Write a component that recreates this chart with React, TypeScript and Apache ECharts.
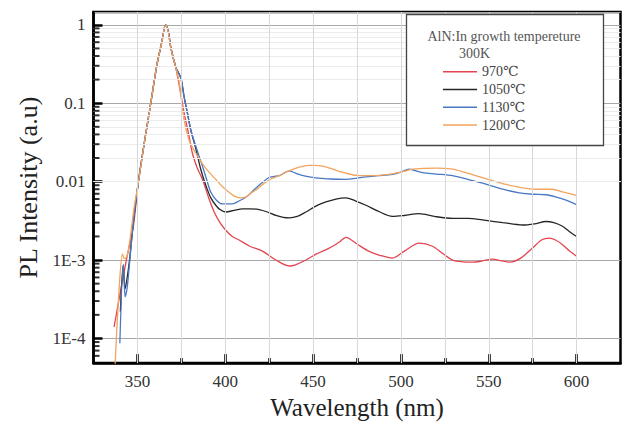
import React, { useEffect, useRef } from "react";
import * as echarts from "echarts";

// ---------- data ----------
const seriesNames = ["970℃", "1050℃", "1130℃", "1200℃"];
const seriesColors = ["#e4454f", "#262626", "#4a78c4", "#f2a35e"];

const wl970 = [336.7, 340, 343.7, 347.7, 350.5, 354, 357.6, 361, 364, 366, 367.5, 369, 371.9, 374, 376.6, 379, 381.3, 384, 387, 390.8, 393.7, 397, 400.3, 404, 407.9, 414, 421.2, 428.8, 436.4, 440, 445.9, 452, 459.2, 465, 468.7, 475, 481.9, 488, 495.2, 502, 510.4, 518, 524, 529.4, 535, 540.8, 546, 552.2, 557, 561.7, 568, 574.9, 580, 584.5, 588, 592, 596, 600];
const pl970 = [1.4e-4, 3.6e-4, 1.0e-3, 2.7e-3, 0.01, 0.032, 0.1, 0.3, 0.62, 1.0, 0.85, 0.52, 0.28, 0.16, 0.075, 0.042, 0.023, 0.015, 0.0107, 0.006, 0.0041, 0.003, 0.0024, 0.002, 0.0018, 0.0015, 0.0013, 0.001, 0.00084, 0.00087, 0.001, 0.0012, 0.00142, 0.0017, 0.00195, 0.0016, 0.00129, 0.00115, 0.00106, 0.0013, 0.00164, 0.0015, 0.0012, 0.001, 0.00095, 0.00094, 0.00097, 0.00103, 0.00098, 0.00094, 0.00105, 0.00142, 0.0018, 0.0019, 0.0018, 0.00157, 0.0013, 0.00112];

const wl1050 = [340.3, 341.9, 343, 344.2, 345.5, 348, 350.6, 354, 357.6, 361, 364, 366, 367.5, 369, 371.9, 374.7, 376.6, 378.5, 380.4, 383.3, 386, 389, 391.8, 394.6, 397, 400.3, 405, 409.8, 414, 419.3, 424, 428.8, 433, 436.4, 441, 445.9, 451, 457.3, 463, 468.7, 474, 480.1, 487, 495.2, 502, 510.4, 519, 529.4, 538, 548.4, 558, 569.2, 576, 582.6, 587, 592, 596, 600];
const pl1050 = [2.2e-4, 8.6e-4, 4.3e-4, 6.0e-4, 1.0e-3, 3.5e-3, 0.01, 0.032, 0.1, 0.3, 0.62, 1.0, 0.85, 0.51, 0.286, 0.21, 0.12, 0.074, 0.0455, 0.026, 0.0145, 0.0089, 0.0062, 0.005, 0.0044, 0.0041, 0.0043, 0.0045, 0.0045, 0.0044, 0.0041, 0.0037, 0.0035, 0.00345, 0.0036, 0.0041, 0.0048, 0.0055, 0.006, 0.0062, 0.0057, 0.005, 0.0042, 0.0036, 0.0037, 0.0039, 0.0036, 0.0034, 0.0034, 0.0032, 0.003, 0.0028, 0.0029, 0.0031, 0.003, 0.0027, 0.0023, 0.002];

const wl1130 = [340, 342, 343, 344.2, 345.5, 348, 350.6, 354, 357.6, 361, 364, 366, 367.5, 369, 371.9, 374.7, 376.6, 378.5, 380.4, 383.3, 387, 389.5, 391.8, 395, 398.4, 404.1, 408, 411.7, 418, 425, 430.7, 436.4, 440, 445, 449.7, 455, 460, 468.7, 474, 480.1, 487, 495.2, 500, 504.7, 508, 512.3, 520, 529.4, 538, 548.4, 558, 567.4, 575, 582.6, 588, 594, 600];
const pl1130 = [8.7e-5, 8.8e-4, 3.4e-4, 4.5e-4, 9e-4, 3.5e-3, 0.01, 0.032, 0.1, 0.3, 0.62, 1.0, 0.85, 0.51, 0.286, 0.21, 0.12, 0.074, 0.0455, 0.028, 0.0158, 0.0105, 0.0073, 0.0058, 0.0052, 0.0052, 0.0057, 0.0063, 0.0085, 0.0113, 0.0119, 0.0137, 0.0128, 0.0118, 0.0113, 0.011, 0.0108, 0.0107, 0.011, 0.0115, 0.0119, 0.0124, 0.0132, 0.0144, 0.0138, 0.013, 0.0125, 0.0119, 0.0107, 0.0093, 0.008, 0.0072, 0.0069, 0.0068, 0.0064, 0.0058, 0.0051];

const wl1200 = [337.3, 339.5, 341.5, 342.5, 344, 346, 348, 350.6, 354, 357.6, 361, 364, 366, 367.5, 369, 371.9, 373.7, 376.6, 379.4, 381.5, 383.3, 385.5, 388, 391, 394.6, 398, 402.2, 405.5, 409, 412, 415, 419, 422, 426, 430.7, 435, 440, 444, 447.8, 451, 455.4, 460, 465, 470, 476.3, 484, 493.3, 500, 506.6, 513, 520, 529.4, 537, 545, 552.2, 560, 571.2, 578, 586.3, 592, 600];
const pl1200 = [4.5e-5, 4e-4, 1.2e-3, 1.05e-3, 1.1e-3, 2e-3, 4.5e-3, 0.01, 0.032, 0.1, 0.3, 0.62, 1.0, 0.82, 0.5, 0.28, 0.19, 0.061, 0.034, 0.027, 0.023, 0.019, 0.0158, 0.013, 0.0107, 0.0088, 0.0073, 0.0065, 0.0062, 0.0064, 0.0072, 0.0083, 0.0095, 0.0108, 0.0119, 0.0133, 0.0148, 0.0157, 0.0161, 0.0161, 0.0158, 0.0148, 0.0135, 0.0126, 0.0119, 0.0119, 0.0124, 0.0132, 0.0144, 0.0148, 0.0149, 0.0144, 0.013, 0.0115, 0.0103, 0.0092, 0.0082, 0.008, 0.008, 0.0074, 0.0067];

const xMin = 325;
const xMax = 625;
const xMajorTicks = [350, 400, 450, 500, 550, 600];
const xMinorTicks = [375, 425, 475, 525, 575];
const xGridValues = [350, 375, 400, 425, 450, 475, 500, 525, 550, 575, 600];
const yMin = 4.85e-5;
const yMax = 1.456;
const yTickValues = [1e-4, 1e-3, 0.01, 0.1, 1];
const yTickLabels = ["1E-4", "1E-3", "0.01", "0.1", "1"];
const yMinorValues = [
  6e-5, 7e-5, 8e-5, 9e-5,
  2e-4, 3e-4, 4e-4, 5e-4, 6e-4, 7e-4, 8e-4, 9e-4,
  2e-3, 3e-3, 4e-3, 5e-3, 6e-3, 7e-3, 8e-3, 9e-3,
  0.02, 0.03, 0.04, 0.05, 0.06, 0.07, 0.08, 0.09,
  0.2, 0.3, 0.4, 0.5, 0.6, 0.7, 0.8, 0.9,
];
const legendTitle = "AlN:In growth tempereture";
const legendSubtitle = "300K";

const FONT = "'Liberation Serif', 'DejaVu Serif', serif";

export default function App() {
  const ref = useRef<HTMLDivElement>(null);
  useEffect(() => {
    document.body.style.margin = "0";
    if (!ref.current) return;
    const chart = echarts.init(ref.current, null, { renderer: "svg" });
    const wls = [wl970, wl1050, wl1130, wl1200];
    const pls = [pl970, pl1050, pl1130, pl1200];
    const lineSeries = seriesNames.map((name, k) => ({
      name,
      type: "line",
      data: wls[k].map((w, i) => [w, pls[k][i]]),
      showSymbol: false,
      symbol: "none",
      smooth: 0.3,
      lineStyle: { color: seriesColors[k], width: 1.3 },
      itemStyle: { color: seriesColors[k] },
      z: 4,
    }));
    chart.setOption({
      animation: false,
      textStyle: { fontFamily: FONT },
      grid: {
        left: 93.5,
        right: 2.5,
        top: 12,
        bottom: 56.7,
        show: true,
        borderColor: "#000",
        borderWidth: 2.5,
        backgroundColor: "transparent",
      },
      legend: {
        data: seriesNames,
        orient: "vertical",
        left: 443,
        top: 64.7,
        padding: 0,
        icon: "rect",
        itemWidth: 34,
        itemHeight: 1.5,
        itemGap: 3.8,
        textStyle: { fontFamily: FONT, fontSize: 14, color: "#444", lineHeight: 14 },
        z: 10,
      },
      graphic: [
        {
          type: "rect",
          z: 8,
          shape: { x: 406.5, y: 14.5, width: 197, height: 131 },
          style: { fill: "#fff", stroke: "#444", lineWidth: 1.3 },
        },
        {
          type: "text",
          z: 9,
          x: 504,
          y: 36.7,
          style: { text: legendTitle, fontFamily: FONT, fontSize: 14, fill: "#555", align: "center", verticalAlign: "middle" },
        },
        {
          type: "text",
          z: 9,
          x: 474.5,
          y: 53,
          style: { text: legendSubtitle, fontFamily: FONT, fontSize: 14, fill: "#555", align: "center", verticalAlign: "middle" },
        },
      ],
      xAxis: [
        {
          type: "value",
          z: 3,
          min: xMin,
          max: xMax,
          interval: 25,
          position: "bottom",
          name: "Wavelength (nm)",
          nameLocation: "middle",
          nameGap: 31,
          nameTextStyle: { fontFamily: FONT, fontSize: 25, color: "#222" },
          axisLine: { show: true, lineStyle: { color: "#000", width: 2.5 } },
          axisTick: { show: true, inside: true, length: 9, customValues: xMajorTicks, lineStyle: { color: "#000", width: 2.5 } },
          axisLabel: { customValues: xMajorTicks, fontFamily: FONT, fontSize: 17, color: "#333", margin: 10, formatter: (v: number) => String(v) },
          splitLine: { show: false },
        },
        {
          type: "value",
          z: 3,
          min: xMin,
          max: xMax,
          position: "bottom",
          axisLine: { show: false },
          axisTick: { show: true, inside: true, length: 5, customValues: xMinorTicks, lineStyle: { color: "#000", width: 2.5 } },
          axisLabel: { show: false },
          splitLine: { show: false },
        },
      ],
      yAxis: {
        type: "log",
        z: 3,
        logBase: 10,
        min: yMin,
        max: yMax,
        name: "PL Intensity (a.u)",
        nameLocation: "middle",
        nameGap: 51,
        nameTextStyle: { fontFamily: FONT, fontSize: 26, color: "#222" },
        axisLine: { show: true, lineStyle: { color: "#000", width: 2.5 } },
        axisTick: { show: true, inside: true, length: 9, lineStyle: { color: "#000", width: 2.5 } },
        axisLabel: {
          fontFamily: FONT,
          fontSize: 17,
          color: "#333",
          margin: 8,
          showMinLabel: false,
          showMaxLabel: false,
          formatter: (v: number) => {
            const i = yTickValues.findIndex((t) => Math.abs(Math.log10(v) - Math.log10(t)) < 1e-6);
            return i >= 0 ? yTickLabels[i] : "";
          },
        },
        splitLine: { show: true, lineStyle: { color: "#a8a8a8", width: 1 } },
      },
      series: [
        {
          type: "line",
          data: [],
          silent: true,
          z: 1,
          markLine: {
            silent: true,
            symbol: "none",
            label: { show: false },
            lineStyle: { color: "#ebebeb", width: 1, type: "solid" },
            data: [
              ...yMinorValues.map((v) => ({ yAxis: v })),
              ...xGridValues.map((v) => ({ xAxis: v, lineStyle: { color: "#d8d8d8", width: 1, type: "solid" } })),
            ],
          },
        },
        {
          type: "scatter",
          data: yMinorValues.map((v) => [xMin, v]),
          symbol: "rect",
          symbolSize: [6, 2],
          symbolOffset: [3, 0],
          itemStyle: { color: "#000" },
          clip: false,
          silent: true,
          z: 6,
        },
        ...lineSeries,
      ],
    });
    return () => chart.dispose();
  }, []);
  return <div ref={ref} style={{ width: 623, height: 425, position: "absolute", left: 0, top: 0 }} />;
}
